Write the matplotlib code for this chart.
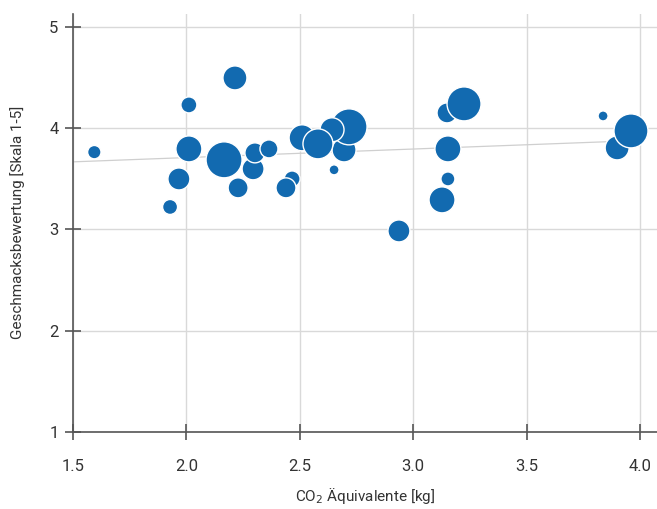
import matplotlib
matplotlib.use("Agg")
import matplotlib.pyplot as plt

# CO2 equivalents [kg], taste rating [1-5], bubble radius (px)
co2 = [1.594, 2.011, 2.214, 2.011, 1.967, 1.928, 2.166, 2.228, 2.294, 2.302,
       2.364, 2.466, 2.439, 2.510, 2.651, 2.695, 2.717, 2.642, 2.580, 2.937,
       3.127, 3.153, 3.153, 3.149, 3.224, 3.837, 3.899, 3.960]
taste = [3.764, 4.231, 4.498, 3.796, 3.499, 3.222, 3.688, 3.411, 3.599, 3.757,
         3.796, 3.499, 3.411, 3.906, 3.589, 3.786, 4.014, 3.985, 3.846, 2.985,
         3.292, 3.499, 3.796, 4.152, 4.241, 4.122, 3.806, 3.974]
radius = [6.7, 8, 12, 13, 11, 7.5, 18, 10, 11, 10,
          9, 8, 10, 13, 5, 12, 18, 12, 15, 11,
          13, 7, 13, 10, 17, 5, 12, 17]

trend_x = [1.5, 3.96]
trend_y = [3.668, 3.876]

xticks = [1.5, 2.0, 2.5, 3.0, 3.5, 4.0]
yticks = [1, 2, 3, 4, 5]

plt.rcParams['font.family'] = ['Roboto', 'DejaVu Sans']

fig = plt.figure(figsize=(6.57, 5.09), dpi=100)
ax = fig.add_axes([0.1111, 0.1519, 0.889, 0.8206])

ax.set_xlim(1.5, 4.075)
ax.set_ylim(1, 5.13)

ax.grid(True, color='#d9d9d9', linewidth=1.0, zorder=0)
ax.set_axisbelow(True)

ax.plot(trend_x, trend_y, color='#cfcfcf', linewidth=0.9, zorder=1)

sizes = [(1.44 * r) ** 2 for r in radius]
ax.scatter(co2, taste, s=sizes, color='#126ab0', edgecolor='white',
           linewidth=1.0, zorder=2)

ax.set_xticks(xticks)
ax.set_xticklabels(['%.1f' % v for v in xticks])
ax.set_yticks(yticks)

for side in ['top', 'right']:
    ax.spines[side].set_visible(False)
for side in ['left', 'bottom']:
    ax.spines[side].set_color('#555555')
    ax.spines[side].set_linewidth(1.2)

ax.tick_params(axis='x', direction='inout', length=11, width=1.2,
               color='#555555', pad=14, labelsize=12, labelcolor='#333333')
ax.tick_params(axis='y', direction='inout', length=11, width=1.2,
               color='#555555', pad=5, labelsize=12, labelcolor='#333333')

ax.set_xlabel('CO$_2$ Äquivalente [kg]', fontsize=11, color='#333333', labelpad=9)
ax.set_ylabel('Geschmacksbewertung [Skala 1-5]', fontsize=11, color='#333333',
              labelpad=17)

fig.savefig('out.png', dpi=100)
